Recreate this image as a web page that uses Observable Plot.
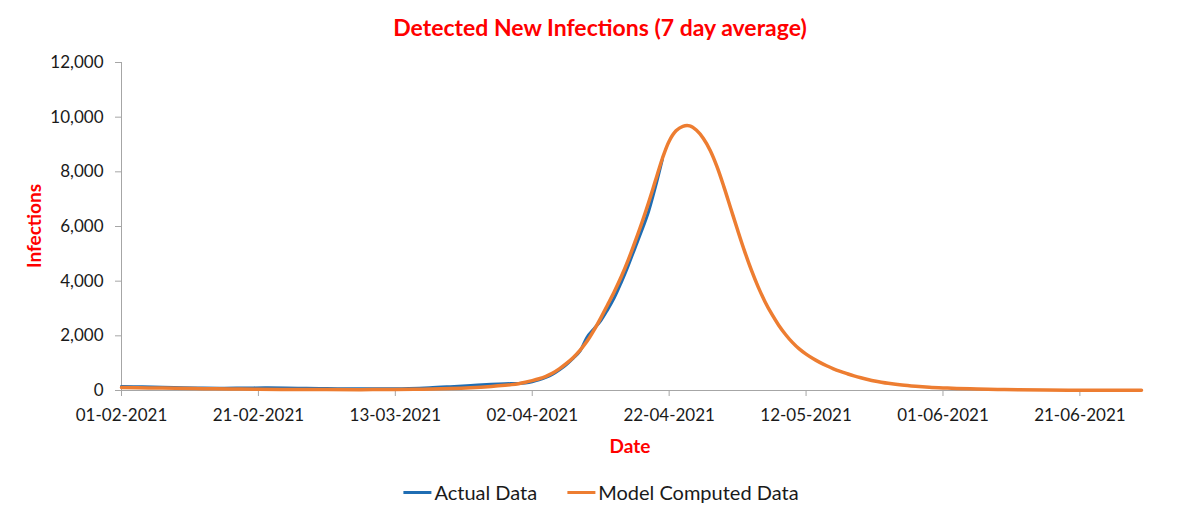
<!DOCTYPE html>
<html><head><meta charset="utf-8">
<script src="https://cdn.jsdelivr.net/npm/d3@7"></script>
<script src="https://cdn.jsdelivr.net/npm/@observablehq/plot@0.6"></script>
<style>
body{margin:0;background:#fff;}
#wrap{position:relative;width:1200px;height:519px;font-family:Lato,"Open Sans",sans-serif;overflow:hidden;}
.ov{position:absolute;white-space:nowrap;transform:translate(-50%,-50%);}
#title{left:600px;top:27px;color:#ff0000;font-weight:bold;font-size:23px;}
#xlab{left:630px;top:445px;color:#ff0000;font-weight:bold;font-size:19px;}
#ylab{left:33px;top:226px;color:#ff0000;font-weight:bold;font-size:19px;transform:translate(-50%,-50%) rotate(-90deg);}
#legend{left:601px;top:492px;display:flex;gap:30px;font-size:20px;color:#1a1a1a;}
.item{display:flex;align-items:center;}
.sw{display:inline-block;width:28px;height:3px;margin-right:3px;}
</style></head><body>
<div id="wrap">
  <div id="chart"></div>
  <div class="ov" id="title"></div>
  <div class="ov" id="xlab"></div>
  <div class="ov" id="ylab"></div>
  <div class="ov" id="legend"></div>
</div>
<script>
const titleText = "Detected New Infections (7 day average)";
const xAxisTitle = "Date";
const yAxisTitle = "Infections";
const seriesNames = ["Actual Data", "Model Computed Data"];
const seriesColors = ["#1f6db3", "#ed7d31"];

const yTicks = [0, 2000, 4000, 6000, 8000, 10000, 12000];
const xTickLabels = ["01-02-2021","21-02-2021","13-03-2021","02-04-2021","22-04-2021","12-05-2021","01-06-2021","21-06-2021"];
const xDomain = ["2021-02-01", "2021-06-30"];

const actualDates = ["2021-02-01","2021-02-04","2021-02-07","2021-02-10","2021-02-13","2021-02-16","2021-02-19","2021-02-22","2021-02-25","2021-02-28",
  "2021-03-03","2021-03-06","2021-03-09","2021-03-12","2021-03-15","2021-03-18","2021-03-21","2021-03-24","2021-03-27","2021-03-29","2021-03-31",
  "2021-04-01","2021-04-02","2021-04-03","2021-04-04","2021-04-05","2021-04-06","2021-04-07","2021-04-08","2021-04-09","2021-04-10",
  "2021-04-11","2021-04-12","2021-04-13","2021-04-14","2021-04-15","2021-04-16","2021-04-17","2021-04-18","2021-04-19","2021-04-20","2021-04-21"];
const actualValues = [150,135,115,100,90,85,90,100,95,80,
  70,65,60,65,75,100,140,185,230,250,255,
  275,320,390,480,600,760,950,1180,1450,1950,
  2250,2550,2950,3400,3950,4550,5200,5850,6550,7450,8450];

const modelDates = ["2021-02-01","2021-02-05","2021-02-09","2021-02-13","2021-02-17","2021-02-21","2021-02-26","2021-03-03","2021-03-08","2021-03-13",
  "2021-03-17","2021-03-21","2021-03-24","2021-03-27",
  "2021-03-29","2021-03-30","2021-03-31","2021-04-01","2021-04-02","2021-04-03","2021-04-04","2021-04-05","2021-04-06","2021-04-07",
  "2021-04-08","2021-04-09","2021-04-10","2021-04-11","2021-04-12","2021-04-13","2021-04-14","2021-04-15","2021-04-16","2021-04-17",
  "2021-04-18","2021-04-19","2021-04-20","2021-04-21","2021-04-22","2021-04-23","2021-04-24","2021-04-25","2021-04-26","2021-04-27",
  "2021-04-28","2021-04-29","2021-04-30","2021-05-01","2021-05-02","2021-05-03","2021-05-04","2021-05-05","2021-05-06","2021-05-07",
  "2021-05-08","2021-05-09","2021-05-10","2021-05-11","2021-05-12","2021-05-13","2021-05-14","2021-05-15","2021-05-16","2021-05-17",
  "2021-05-18","2021-05-19","2021-05-20","2021-05-21","2021-05-22","2021-05-23","2021-05-24",
  "2021-05-26","2021-05-28","2021-05-30","2021-06-01","2021-06-03","2021-06-06","2021-06-09","2021-06-12","2021-06-16","2021-06-21","2021-06-26","2021-06-30"];
const modelValues = [110,95,80,65,55,45,38,33,32,38,
  50,75,105,150,
  190,215,250,300,360,430,520,640,800,990,
  1210,1480,1800,2200,2650,3130,3620,4160,4760,5430,
  6130,6880,7680,8480,9120,9500,9665,9680,9520,9220,
  8780,8180,7450,6660,5870,5110,4410,3790,3250,2790,
  2390,2050,1760,1520,1330,1170,1030,905,795,700,
  615,535,465,405,350,305,265,
  200,155,120,95,75,54,38,27,18,11,7,5];

const parseISO = d3.utcParse("%Y-%m-%d");
const parseDMY = d3.utcParse("%d-%m-%Y");
const actual = actualDates.map((d, i) => ({date: parseISO(d), value: actualValues[i]}));
const model = modelDates.map((d, i) => ({date: parseISO(d), value: modelValues[i]}));
const xTicks = xTickLabels.map(parseDMY);
const fmt = d3.format(",");
const axisColor = "#a6a6a6";
const textColor = "#1a1a1a";

const chart = Plot.plot({
  width: 1200, height: 519,
  marginLeft: 121, marginRight: 59, marginTop: 62, marginBottom: 129,
  x: {type: "utc", domain: xDomain.map(parseISO)},
  y: {domain: [0, 12000]},
  style: {fontFamily: "Lato, 'Open Sans', sans-serif", fontSize: "17px", color: textColor, background: "white", overflow: "visible"},
  marks: [
    Plot.axisY(yTicks, {tickSize: 6, tickPadding: 12, stroke: axisColor, fill: textColor, tickFormat: fmt, label: null}),
    Plot.axisX(xTicks, {tickSize: 6, tickPadding: 12, stroke: axisColor, fill: textColor, label: null,
      tickFormat: d => xTickLabels[xTicks.findIndex(t => +t === +d)]}),
    Plot.ruleX([parseISO(xDomain[0])], {stroke: axisColor, strokeWidth: 1}),
    Plot.ruleY([0], {stroke: axisColor, strokeWidth: 1}),
    Plot.line(actual, {x: "date", y: "value", stroke: seriesColors[0], strokeWidth: 3, curve: "catmull-rom"}),
    Plot.line(model, {x: "date", y: "value", stroke: seriesColors[1], strokeWidth: 3.5, curve: "catmull-rom"})
  ]
});
document.getElementById("chart").appendChild(chart);
document.getElementById("title").textContent = titleText;
document.getElementById("xlab").textContent = xAxisTitle;
document.getElementById("ylab").textContent = yAxisTitle;
const leg = document.getElementById("legend");
seriesNames.forEach((n, i) => {
  const it = document.createElement("div"); it.className = "item";
  const sw = document.createElement("span"); sw.className = "sw"; sw.style.background = seriesColors[i];
  const tx = document.createElement("span"); tx.textContent = n;
  it.appendChild(sw); it.appendChild(tx); leg.appendChild(it);
});
</script>
</body></html>
